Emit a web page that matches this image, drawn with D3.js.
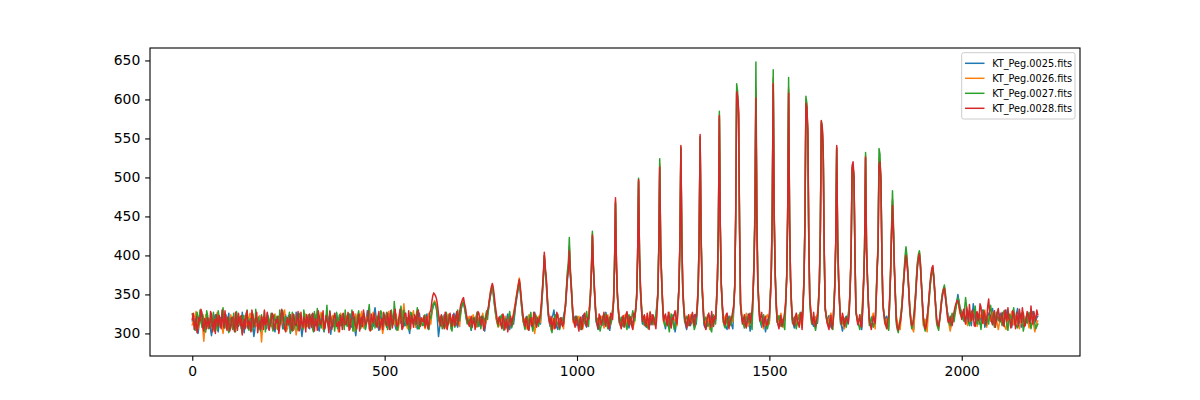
<!DOCTYPE html>
<html>
<head>
<meta charset="utf-8">
<script src="https://cdn.jsdelivr.net/npm/d3@7"></script>
<style>
  html, body { margin: 0; padding: 0; background: #ffffff; }
  svg { display: block; }
  text { font-family: "DejaVu Sans", sans-serif; }
</style>
</head>
<body>
<svg id="chart" width="1200" height="400"></svg>
<script>
// ---- data ----
const seriesNames = ["KT_Peg.0025.fits", "KT_Peg.0026.fits", "KT_Peg.0027.fits", "KT_Peg.0028.fits"];
const seriesColors = ["#1f77b4", "#ff7f0e", "#2ca02c", "#d62728"];
const pixelStart = 0;      // pixel index of the first sample
const pixelStep = 5;       // spacing of the main samples (pixel index)
const midOffset = 2.5;     // the "Mid" arrays are the samples half-way between
const xTicks = [0, 500, 1000, 1500, 2000];
const yTicks = [300, 350, 400, 450, 500, 550, 600, 650];

const series0025 = [
316,322,309,300,318,325,311,306,320,313,297,317,324,308,315,321,303,319,310,326,
312,318,304,323,309,316,327,301,314,320,307,324,296,317,311,322,305,318,313,326,
308,315,321,302,317,312,325,306,319,310,323,300,316,313,327,309,320,296,314,322,
319,306,313,325,310,318,303,321,314,308,324,317,299,320,312,326,307,315,322,311,
317,313,325,308,321,297,315,324,311,318,306,329,313,320,309,333,316,304,322,314,
320,308,316,326,311,322,305,318,313,329,309,321,316,300,324,312,319,306,326,314,
318,311,325,306,320,332,338,333,296,318,312,324,307,317,321,310,326,314,308,320,
335,338,326,313,320,304,318,312,325,309,321,315,303,319,331,348,358,338,320,311,
322,308,317,313,325,305,319,312,334,350,366,340,316,310,322,305,318,313,327,311,
318,312,350,398,365,324,309,318,330,312,305,319,311,322,334,368,410,358,316,322,
310,318,306,323,314,308,320,348,424,356,316,305,322,310,318,327,312,304,320,340,
468,350,315,308,320,312,326,307,318,313,322,346,494,352,312,320,308,316,311,324,
313,319,350,515,368,318,306,322,311,317,324,302,318,360,536,354,316,305,322,310,
318,324,312,358,550,360,311,306,318,323,310,318,316,370,576,362,319,312,305,322,
313,306,360,608,580,338,315,321,310,325,303,318,388,610,364,318,308,321,302,318,
316,378,625,378,316,309,321,312,318,372,612,370,316,307,320,311,318,322,366,598,
550,342,315,309,321,313,364,568,530,332,316,323,308,318,360,536,366,315,303,318,
322,312,358,510,498,328,315,320,305,366,525,368,318,309,320,312,380,520,494,338,
318,322,309,376,470,382,316,306,312,338,374,402,376,330,312,305,348,388,400,365,
320,312,316,345,372,382,350,316,310,326,350,356,336,322,306,320,325,334,350,332,
328,320,314,330,322,310,338,318,326,312,322,330,308,320,326,316,332,314,322,318,
326,313,318,330,311,322,308,324,318,332,315,308,322,317,325,312,319,328,314,320
];
const series0025Mid = [
319,314,303,310,322,317,301,313,316,305,309,321,315,302,318,310,311,324,318,307,
314,309,318,311,320,306,314,323,308,316,325,310,304,320,316,309,313,321,306,319,
311,324,308,314,305,320,316,312,324,306,317,309,320,305,319,314,308,306,318,315,
312,320,309,317,314,306,312,318,302,316,321,308,314,309,319,318,313,310,316,320,
315,319,312,316,305,309,320,317,314,312,318,321,316,313,325,322,309,315,318,316,
314,312,321,318,316,309,311,315,322,318,313,319,306,313,318,315,310,322,319,316,
314,318,314,313,326,336,337,314,306,315,318,316,312,320,314,319,320,311,315,328,
337,333,318,316,311,312,315,319,316,315,318,308,312,326,340,354,350,328,315,317,
314,312,315,320,313,312,316,322,342,358,354,326,312,316,312,311,316,320,318,315,
314,330,370,380,342,315,313,324,320,308,312,315,317,328,350,382,376,335,318,316,
314,311,315,318,311,314,332,380,384,334,310,314,316,314,322,319,308,312,330,385,
386,330,311,314,316,319,316,312,315,318,332,396,398,330,316,314,312,313,318,318,
316,334,404,406,340,312,314,316,314,320,312,310,336,414,416,332,310,314,316,314,
321,318,330,422,424,334,308,312,320,316,314,317,340,434,432,338,315,308,314,318,
310,332,448,598,435,325,318,315,318,314,310,350,448,440,338,313,315,311,310,317,
345,452,448,340,312,315,316,315,340,445,442,338,311,313,315,314,320,338,440,585,
415,326,312,315,317,336,430,560,405,322,319,315,313,334,414,416,338,309,310,320,
317,330,402,512,398,320,317,312,332,408,408,336,313,314,316,342,408,515,398,326,
320,314,338,428,430,348,310,309,324,356,390,392,352,320,308,325,370,396,386,342,
316,313,330,360,378,368,332,312,318,340,354,346,328,314,312,322,330,342,342,330,
324,317,322,326,316,324,328,322,319,317,326,319,314,323,321,324,323,318,320,322,
319,316,324,320,316,315,316,321,325,323,311,315,320,321,318,315,324,321,317,322
];

const series0026 = [
311,320,328,306,314,319,290,324,309,317,322,305,315,327,310,318,300,321,313,309,
324,311,318,307,320,312,314,322,310,317,326,304,319,312,308,323,289,321,320,311,
317,309,314,325,306,322,311,318,330,303,315,320,308,324,298,316,319,310,307,325,
309,321,316,304,324,311,318,327,305,313,320,309,316,323,308,319,302,326,312,317,
322,309,318,314,303,325,311,319,328,307,316,322,312,304,327,318,310,321,316,300,
314,320,328,309,317,311,325,304,321,315,338,312,306,322,318,329,308,316,320,312,
320,306,314,326,312,335,342,336,318,309,322,314,307,325,313,320,310,318,326,309,
338,342,330,316,322,310,324,315,308,320,313,326,309,318,333,354,362,342,318,308,
313,320,309,322,307,318,312,326,340,356,371,344,314,319,306,324,312,320,300,318,
322,314,354,400,370,328,311,320,306,317,325,312,318,306,336,375,412,362,314,318,
314,322,311,306,319,313,324,350,428,360,320,311,318,322,307,316,324,310,318,344,
470,346,320,312,316,324,310,318,321,306,316,350,496,358,318,313,322,310,328,314,
318,312,350,518,370,314,322,312,327,310,319,316,310,360,539,356,320,311,316,324,
314,318,322,358,552,364,320,312,324,305,321,314,318,370,580,362,314,322,312,318,
320,315,362,612,584,340,318,312,326,309,320,314,390,615,366,322,315,306,320,324,
312,380,628,378,320,314,326,308,322,372,615,372,318,314,311,324,316,308,370,600,
555,344,320,314,318,326,366,570,532,335,313,318,326,311,364,538,370,320,314,306,
316,320,358,512,500,330,313,318,326,368,528,370,312,318,326,306,382,525,495,340,
312,318,305,378,472,384,322,310,305,342,376,405,378,334,308,302,350,390,404,366,
310,318,302,344,374,385,352,312,306,330,352,358,338,316,303,318,322,336,344,326,
320,326,318,310,328,316,322,330,309,318,324,313,330,308,321,316,327,312,318,305,
318,324,312,305,320,316,328,311,322,314,306,318,327,312,320,307,324,316,302,314
];
const series0026Mid = [
316,324,317,310,316,305,307,316,313,320,314,310,321,318,314,309,311,317,311,316,
318,314,312,314,316,313,318,316,313,321,315,311,316,310,315,306,305,320,316,314,
313,311,320,316,314,316,315,324,317,309,318,314,316,311,307,318,315,308,316,317,
315,318,310,314,317,315,322,316,309,316,314,312,320,315,314,310,314,319,314,320,
316,314,316,308,314,318,315,323,318,312,319,317,308,316,322,314,316,318,308,307,
317,324,318,313,314,318,315,312,318,326,325,309,314,320,324,318,312,318,316,316,
313,310,320,319,324,339,339,327,313,316,318,310,316,319,317,315,314,322,317,324,
340,336,323,319,316,317,320,311,314,316,320,317,313,326,344,358,352,330,313,310,
316,314,316,314,312,315,319,333,348,364,358,329,316,312,315,318,316,310,309,320,
318,334,372,382,349,319,315,313,311,321,318,315,312,321,356,385,380,338,316,316,
318,316,308,312,316,318,336,382,386,340,315,314,320,314,312,320,317,314,330,386,
388,333,316,314,320,317,314,320,313,311,333,398,398,338,315,318,316,319,321,316,
315,330,406,408,342,318,317,320,318,314,318,313,334,418,418,338,315,314,320,319,
316,320,338,424,426,342,316,318,314,313,318,316,342,436,434,336,318,317,315,319,
317,338,452,600,438,329,315,319,318,314,317,350,452,444,342,318,310,313,322,318,
346,455,452,345,317,320,317,315,345,450,446,340,316,312,318,320,312,340,442,590,
418,332,317,316,322,342,432,562,408,324,316,322,318,335,416,418,342,317,310,311,
318,336,404,515,400,321,316,322,345,410,410,338,315,322,316,342,410,520,400,326,
315,311,340,430,432,352,316,307,322,360,392,394,356,320,305,324,372,398,390,338,
314,309,322,360,380,370,330,309,316,342,356,348,326,310,310,320,328,340,336,323,
322,322,314,318,322,319,326,320,314,321,318,322,318,315,318,322,320,315,312,312,
321,318,308,312,318,322,320,316,318,310,312,322,320,316,314,316,320,309,308,316
];

const series0027 = [
325,312,306,321,330,308,317,302,323,314,309,327,318,304,320,311,333,307,316,301,
320,305,313,328,310,322,300,316,325,309,319,303,314,331,312,306,324,317,302,315,
311,326,303,318,322,307,313,329,305,320,316,301,327,310,317,304,323,312,330,308,
318,309,324,302,316,332,311,307,321,314,336,306,319,312,303,327,317,310,325,305,
314,320,307,330,312,303,323,318,310,326,305,319,337,311,316,307,322,313,329,309,
316,327,312,305,321,341,313,308,324,317,330,310,320,304,326,315,311,333,306,319,
310,324,317,305,319,336,340,330,316,322,306,314,327,311,318,303,322,313,330,316,
333,340,326,312,318,305,320,311,327,314,306,322,315,329,332,350,360,340,322,309,
316,324,304,319,311,328,307,317,336,352,368,340,318,305,321,312,327,303,316,320,
309,322,352,400,368,326,315,301,318,324,311,305,320,313,338,380,423,365,318,312,
322,310,305,318,313,328,309,352,431,358,314,320,303,317,311,325,306,321,316,342,
466,348,313,321,309,318,305,324,312,329,316,348,499,355,320,310,315,306,322,317,
311,324,352,524,366,320,309,318,302,325,314,308,321,358,538,352,314,322,310,318,
320,305,317,356,552,362,313,321,309,316,302,324,312,368,585,360,316,307,320,314,
310,323,362,620,575,335,318,307,321,314,326,305,392,648,368,320,311,324,315,306,
320,382,638,376,314,323,309,318,305,374,628,368,313,321,306,318,327,312,372,604,
548,340,312,321,304,316,368,572,528,330,320,309,317,305,362,538,368,312,321,316,
308,325,355,512,495,326,318,305,320,370,532,372,310,321,308,318,385,537,490,336,
320,312,304,380,483,385,312,301,319,340,378,411,380,328,306,322,352,392,406,368,
316,303,322,340,370,383,355,312,304,332,352,362,340,318,310,326,315,332,346,335,
324,316,346,321,310,328,318,335,312,326,305,330,317,322,312,336,320,308,327,316,
322,310,329,318,304,325,316,333,312,307,320,326,303,318,313,327,306,321,312,309
];
const series0027Mid = [
318,304,327,311,316,324,309,329,306,320,315,303,322,329,308,324,313,321,305,319,
310,326,302,320,317,307,323,312,330,304,318,325,309,316,321,303,311,328,314,322,
317,308,324,313,305,330,318,306,322,311,327,314,304,321,309,326,316,305,320,313,
324,315,306,328,320,309,317,325,303,319,312,329,308,322,316,306,324,313,318,330,
309,325,316,303,321,314,329,306,318,322,311,327,316,305,324,317,309,320,326,312,
321,305,318,330,312,326,304,319,335,311,322,316,308,327,313,320,324,306,318,310,
318,311,309,322,328,339,336,322,318,312,320,309,318,324,306,315,308,322,318,326,
338,334,318,315,310,314,316,320,309,322,314,319,323,318,342,356,352,330,314,320,
322,312,314,307,320,316,311,325,345,360,356,328,310,314,317,322,312,310,324,312,
316,335,372,380,346,318,305,311,322,316,309,314,317,326,358,390,385,340,320,315,
314,319,311,322,320,316,330,385,390,334,318,311,309,322,318,314,316,312,328,385,
386,328,316,311,320,309,318,314,322,318,330,400,400,336,314,318,309,317,312,320,
317,336,412,412,338,311,316,310,316,322,305,318,336,416,418,330,320,314,316,322,
312,309,332,424,426,334,318,314,312,305,316,318,336,440,438,334,310,316,308,322,
318,338,455,610,430,324,312,316,318,322,314,345,465,460,340,314,320,318,310,312,
348,462,458,340,318,314,316,310,336,455,452,334,318,312,314,322,318,336,445,595,
415,322,318,310,312,338,432,562,408,324,314,312,310,330,416,418,336,318,312,320,
318,334,402,515,395,322,310,314,338,412,412,338,314,316,312,345,415,530,400,326,
314,308,338,435,440,350,305,310,328,360,398,400,355,315,312,336,374,402,392,340,
308,312,330,358,378,372,332,308,318,344,358,352,328,314,320,320,324,340,342,330,
320,332,335,314,318,322,326,318,320,314,318,324,310,316,326,328,314,318,322,319,
316,324,322,311,316,320,325,322,309,314,323,317,310,316,321,316,313,318,306,312
];

const series0028 = [
318,305,322,309,316,327,303,314,320,307,325,311,300,317,323,306,315,329,304,312,
309,321,302,315,326,310,298,318,324,306,313,330,308,319,301,316,322,305,311,327,
304,317,323,309,314,300,320,326,307,315,311,324,303,318,310,328,306,313,321,302,
316,325,308,312,319,304,322,313,329,307,317,301,320,311,326,309,315,323,305,318,
312,327,306,319,324,310,316,303,321,330,311,317,306,325,314,320,308,328,313,305,
322,310,318,329,307,324,315,312,331,305,319,326,311,317,323,308,321,327,314,320,
315,308,322,312,330,348,350,344,325,310,318,306,321,313,326,309,317,323,311,328,
340,346,333,318,309,322,314,305,319,326,311,317,308,323,335,352,364,348,327,312,
318,306,321,313,302,317,310,324,338,355,369,346,322,309,316,304,320,311,325,308,
314,326,358,404,372,330,312,305,319,310,323,307,316,312,335,372,406,360,322,308,
317,303,321,312,326,309,318,350,426,362,318,306,322,314,327,309,319,312,324,340,
474,352,318,306,323,313,328,310,319,305,321,345,497,360,315,324,309,318,327,311,
320,306,348,513,372,316,325,310,322,307,318,329,312,362,541,358,320,307,324,313,
327,310,321,360,555,366,318,305,322,314,328,309,319,372,579,365,321,311,326,306,
318,329,358,610,588,340,312,324,307,320,313,330,385,602,362,316,327,309,322,312,
325,378,620,380,318,306,323,314,328,370,608,372,319,310,326,313,321,305,368,595,
561,345,318,327,309,322,365,573,535,334,314,305,323,312,358,541,372,318,326,309,
321,313,360,515,501,330,311,324,308,365,526,368,316,305,322,313,378,515,497,340,
315,306,322,375,464,380,318,304,314,335,372,400,376,332,310,318,345,385,402,364,
322,306,318,348,376,387,352,318,309,328,348,358,335,314,322,310,327,338,342,329,
318,331,312,326,337,316,323,309,328,320,334,313,325,318,344,322,311,329,317,332,
315,327,309,322,333,318,312,326,306,320,331,314,324,310,328,317,335,312,321,330
];
const series0028Mid = [
326,310,301,320,331,308,319,306,313,328,302,318,324,309,315,330,307,317,321,303,
320,308,327,304,317,323,311,306,329,316,302,322,313,327,309,305,318,330,315,307,
312,326,305,318,322,309,331,314,302,320,316,306,325,311,319,303,327,308,316,324,
307,319,326,303,315,329,311,318,306,323,313,328,305,317,320,310,302,319,326,311,
321,304,318,328,312,306,325,317,309,322,314,329,303,318,326,311,321,305,319,327,
313,326,305,320,316,331,309,322,318,307,325,313,329,306,318,324,312,330,309,317,
323,314,306,327,340,352,348,336,316,324,311,327,305,319,316,324,310,328,320,336,
344,338,324,313,316,308,320,312,328,315,322,304,318,329,344,360,358,336,318,321,
310,325,305,318,311,322,319,330,347,362,360,334,315,321,305,318,309,327,314,320,
319,340,375,385,350,318,322,313,306,327,314,320,309,325,354,380,378,340,313,322,
310,316,305,324,315,320,330,380,385,336,312,325,311,320,316,323,306,326,318,388,
390,330,311,318,308,325,316,322,309,326,330,398,400,332,320,311,326,305,319,324,
313,322,405,408,336,322,314,327,311,320,324,318,330,418,420,334,314,319,310,322,
316,324,335,425,428,336,310,317,326,308,318,322,340,436,435,338,313,324,317,315,
322,335,450,604,440,322,318,311,316,325,320,350,446,440,335,321,314,318,310,319,
345,454,450,340,311,316,309,320,340,448,446,336,312,322,317,308,327,330,442,590,
420,330,312,316,318,338,432,565,410,322,309,318,306,325,418,420,340,312,320,316,
317,325,405,520,400,318,317,310,330,410,410,338,311,314,318,340,410,520,400,325,
310,318,345,425,428,345,308,309,322,355,388,392,355,318,312,330,366,396,388,342,
312,310,332,364,384,372,334,312,318,340,356,348,322,316,314,318,334,342,336,324,
326,319,334,315,322,330,310,325,316,338,319,329,311,335,326,315,324,308,327,319,
321,312,330,316,319,307,329,314,327,310,322,333,309,318,324,313,320,328,316,324
];

const seriesMain = [series0025, series0026, series0027, series0028];
const seriesMid = [series0025Mid, series0026Mid, series0027Mid, series0028Mid];

// (pixel, value) pairs: main samples interleaved with the half-way samples
const seriesPoints = seriesMain.map((main, k) => {
  const mid = seriesMid[k];
  const pts = [];
  main.forEach((v, i) => {
    const px = pixelStart + i * pixelStep;
    pts.push([px, v]);
    if (i < mid.length) pts.push([px + midOffset, mid[i]]);
  });
  return pts;
});

// ---- layout (matplotlib default axes in a 1200x400 figure) ----
const plotLeft = 150, plotRight = 1080, plotTop = 48, plotBottom = 356;

const svg = d3.select("#chart");

const allPts = seriesPoints.flat();
const xExt = d3.extent(allPts, d => d[0]);
const yExt = d3.extent(allPts, d => d[1]);
const xPad = (xExt[1] - xExt[0]) * 0.05;
const yPad = (yExt[1] - yExt[0]) * 0.05;

const x = d3.scaleLinear().domain([xExt[0] - xPad, xExt[1] + xPad]).range([plotLeft, plotRight]);
const y = d3.scaleLinear().domain([yExt[0] - yPad, yExt[1] + yPad]).range([plotBottom, plotTop]);

svg.append("defs").append("clipPath").attr("id", "clip")
  .append("rect").attr("x", plotLeft).attr("y", plotTop).attr("width", plotRight - plotLeft).attr("height", plotBottom - plotTop);

const line = d3.line()
  .x(d => x(d[0]))
  .y(d => y(d[1]));

const plot = svg.append("g").attr("clip-path", "url(#clip)");
seriesPoints.forEach((pts, k) => {
  plot.append("path")
    .datum(pts)
    .attr("d", line)
    .attr("fill", "none")
    .attr("stroke", seriesColors[k])
    .attr("stroke-width", 1.5)
    .attr("stroke-linejoin", "round")
    .attr("stroke-linecap", "square");
});

// axes
const tickLen = 4.86, tickPad = 4.86, fontSize = 13.9;
const xAxis = d3.axisBottom(x).tickValues(xTicks).tickSizeInner(tickLen).tickSizeOuter(0).tickPadding(tickPad).tickFormat(d3.format("d"));
const yAxis = d3.axisLeft(y).tickValues(yTicks).tickSizeInner(tickLen).tickSizeOuter(0).tickPadding(tickPad).tickFormat(d3.format("d"));

const gx = svg.append("g").attr("transform", `translate(0,${plotBottom})`).call(xAxis);
const gy = svg.append("g").attr("transform", `translate(${plotLeft},0)`).call(yAxis);
[gx, gy].forEach(g => {
  g.select(".domain").remove();
  g.selectAll(".tick line").attr("stroke", "#000").attr("stroke-width", 1.1);
  g.selectAll(".tick text").attr("fill", "#000").style("font-size", fontSize + "px")
    .style("font-family", "'DejaVu Sans', sans-serif");
});

// frame
svg.append("rect")
  .attr("x", plotLeft).attr("y", plotTop).attr("width", plotRight - plotLeft).attr("height", plotBottom - plotTop)
  .attr("fill", "none").attr("stroke", "#000").attr("stroke-width", 1.1);

// legend
const legFont = 9.72;
const legX = 961.7, legY = 52.7, legW = 113.3, legH = 66.3;
const lg = svg.append("g");
lg.append("rect")
  .attr("x", legX).attr("y", legY).attr("width", legW).attr("height", legH)
  .attr("rx", 2).attr("ry", 2)
  .attr("fill", "#ffffff").attr("fill-opacity", 0.8)
  .attr("stroke", "#cccccc").attr("stroke-width", 1);
seriesNames.forEach((name, k) => {
  const ry = 63.3 + k * 15;
  lg.append("line")
    .attr("x1", 965).attr("x2", 984.5).attr("y1", ry).attr("y2", ry)
    .attr("stroke", seriesColors[k]).attr("stroke-width", 1.5);
  lg.append("text")
    .attr("x", 992.2).attr("y", ry).attr("dy", "0.35em")
    .style("font-size", legFont + "px").attr("fill", "#000")
    .text(name);
});
</script>
</body>
</html>
